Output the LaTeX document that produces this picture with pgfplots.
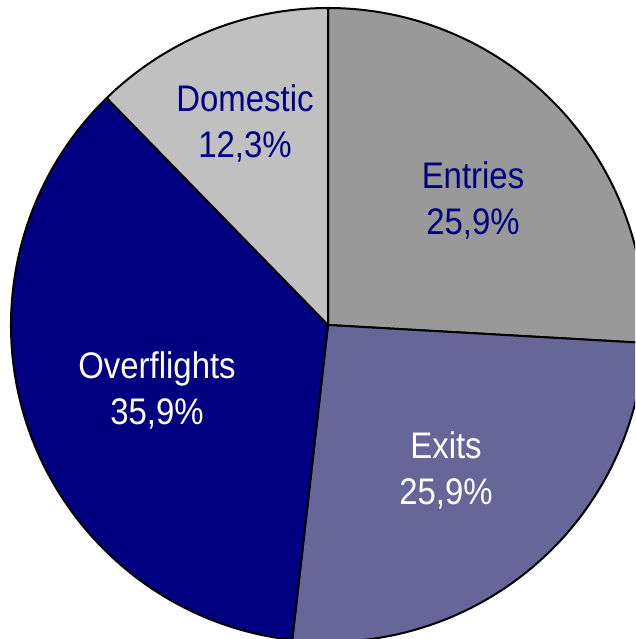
\documentclass[border=0pt]{standalone}
\usepackage{pgfplots}
\pgfplotsset{compat=1.18}
\usepackage{pgfplotstable}
\usepackage{fontspec}
\setmainfont[FakeStretch=0.89]{Liberation Sans}
\definecolor{cEntries}{HTML}{999999}
\definecolor{cExits}{HTML}{666699}
\definecolor{cOver}{HTML}{000080}
\definecolor{cDom}{HTML}{C0C0C0}
% share (%) of each category, clockwise from 12 o'clock
\pgfplotstableread{
name        pct
Entries     25.9
Exits       25.9
Overflights 35.9
Domestic    12.3
}\piedata
\begin{document}
\begin{tikzpicture}
\pgfplotstablegetelem{0}{pct}\of\piedata\let\pA\pgfplotsretval
\pgfplotstablegetelem{1}{pct}\of\piedata\let\pB\pgfplotsretval
\pgfplotstablegetelem{2}{pct}\of\piedata\let\pC\pgfplotsretval
\pgfplotstablegetelem{3}{pct}\of\piedata\let\pD\pgfplotsretval
\pgfmathsetmacro\aA{90}
\pgfmathsetmacro\aB{\aA-3.6*\pA}
\pgfmathsetmacro\aC{\aB-3.6*\pB}
\pgfmathsetmacro\aD{\aC-3.6*\pC}
\pgfmathsetmacro\aE{\aD-3.6*\pD}
\begin{axis}[name=ax, hide axis, x=1pt, y=1pt,
  xmin=-328, xmax=307, ymin=-314, ymax=325, clip=true,
  scale only axis]
\def\R{317}
\tikzset{wedge/.style={draw=black, line width=2pt, line join=round}}
\filldraw[wedge, fill=cEntries] (axis cs:0,0) -- ++({\aA}:\R pt) arc[start angle=\aA, end angle=\aB, radius=\R pt] -- cycle;
\filldraw[wedge, fill=cExits] (axis cs:0,0) -- ++({\aB}:\R pt) arc[start angle=\aB, end angle=\aC, radius=\R pt] -- cycle;
\filldraw[wedge, fill=cOver] (axis cs:0,0) -- ++({\aC}:\R pt) arc[start angle=\aC, end angle=\aD, radius=\R pt] -- cycle;
\filldraw[wedge, fill=cDom] (axis cs:0,0) -- ++({\aD}:\R pt) arc[start angle=\aD, end angle=\aE, radius=\R pt] -- cycle;
\tikzset{lbl/.style={align=center, font=\fontsize{37}{46}\selectfont, inner sep=0pt}}
\node[lbl, text=cOver] at (axis cs:145,125) {Entries\\25,9\%};
\node[lbl, text=white] at (axis cs:118,-145) {Exits\\25,9\%};
\node[lbl, text=white] at (axis cs:-171,-65) {Overflights\\35,9\%};
\node[lbl, text=cOver] at (axis cs:-83,202) {Domestic\\12,3\%};
\end{axis}
\pgfresetboundingbox
\useasboundingbox (ax.south west) rectangle (ax.north east);
\end{tikzpicture}
\end{document}
